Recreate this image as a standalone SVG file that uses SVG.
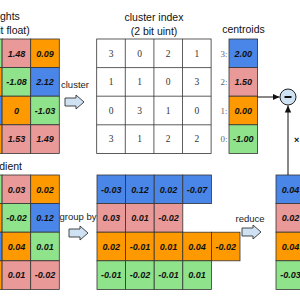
<svg xmlns="http://www.w3.org/2000/svg" width="300" height="300" viewBox="0 0 300 300">
<style>
.b{fill:#4a86e8;stroke:#333;stroke-width:0.8}
.p{fill:#ea9999;stroke:#333;stroke-width:0.8}
.o{fill:#ff9900;stroke:#333;stroke-width:0.8}
.g{fill:#8fe38a;stroke:#333;stroke-width:0.8}
.w{fill:#fff;stroke:#333;stroke-width:0.8}
.v{font-family:"Liberation Sans",Arial,sans-serif;font-size:9px;font-weight:bold;font-style:italic;fill:#111;text-anchor:middle}
.t{font-family:"Liberation Sans",Arial,sans-serif;font-size:10.5px;fill:#111;text-anchor:middle}
.l{font-family:"Liberation Sans",Arial,sans-serif;font-size:9.5px;fill:#222;text-anchor:middle}
.n{font-family:"Liberation Serif","Times New Roman",serif;font-size:9.5px;fill:#333;text-anchor:middle}
.k{font-family:"Liberation Serif","Times New Roman",serif;font-size:9px;fill:#666;text-anchor:end}
.blk{fill:#cfe2f3;stroke:#333;stroke-width:0.9}
</style>
<defs>
<marker id="ah" markerWidth="8" markerHeight="8" refX="7" refY="4" orient="auto" markerUnits="userSpaceOnUse">
<path d="M0,0.8 L7,4 L0,7.2 Z" fill="#111"/>
</marker>
<path id="blockarrow" d="M0,-4 H11 V-7 L19,0 L11,7 V4 H0 Z"/>
</defs>

<g id="weights">
<text class="t" x="2" y="20">weights</text>
<text class="t" x="2" y="34">(32 bit float)</text>
<rect class="b" x="-55.1" y="39" width="28.6" height="28.6"/><rect class="g" x="-26.5" y="39" width="28.6" height="28.6"/><rect class="p" x="2.1" y="39" width="28.6" height="28.6"/><rect class="o" x="30.7" y="39" width="28.6" height="28.6"/>
<rect class="o" x="-55.1" y="67.6" width="28.6" height="28.6"/><rect class="o" x="-26.5" y="67.6" width="28.6" height="28.6"/><rect class="g" x="2.1" y="67.6" width="28.6" height="28.6"/><rect class="b" x="30.7" y="67.6" width="28.6" height="28.6"/>
<rect class="g" x="-55.1" y="96.2" width="28.6" height="28.6"/><rect class="b" x="-26.5" y="96.2" width="28.6" height="28.6"/><rect class="o" x="2.1" y="96.2" width="28.6" height="28.6"/><rect class="g" x="30.7" y="96.2" width="28.6" height="28.6"/>
<rect class="b" x="-55.1" y="124.8" width="28.6" height="28.6"/><rect class="o" x="-26.5" y="124.8" width="28.6" height="28.6"/><rect class="p" x="2.1" y="124.8" width="28.6" height="28.6"/><rect class="p" x="30.7" y="124.8" width="28.6" height="28.6"/>
<text class="v" x="16.4" y="56.5">1.48</text><text class="v" x="45" y="56.5">0.09</text>
<text class="v" x="16.4" y="85.1">-1.08</text><text class="v" x="45" y="85.1">2.12</text>
<text class="v" x="16.4" y="113.7">0</text><text class="v" x="45" y="113.7">-1.03</text>
<text class="v" x="16.4" y="142.3">1.53</text><text class="v" x="45" y="142.3">1.49</text>
</g>

<g id="gradient">
<text class="t" x="3" y="170">gradient</text>
<rect class="b" x="-55.1" y="175" width="28.6" height="28.6"/><rect class="g" x="-26.5" y="175" width="28.6" height="28.6"/><rect class="p" x="2.1" y="175" width="28.6" height="28.6"/><rect class="o" x="30.7" y="175" width="28.6" height="28.6"/>
<rect class="o" x="-55.1" y="203.6" width="28.6" height="28.6"/><rect class="o" x="-26.5" y="203.6" width="28.6" height="28.6"/><rect class="g" x="2.1" y="203.6" width="28.6" height="28.6"/><rect class="b" x="30.7" y="203.6" width="28.6" height="28.6"/>
<rect class="g" x="-55.1" y="232.2" width="28.6" height="28.6"/><rect class="b" x="-26.5" y="232.2" width="28.6" height="28.6"/><rect class="o" x="2.1" y="232.2" width="28.6" height="28.6"/><rect class="g" x="30.7" y="232.2" width="28.6" height="28.6"/>
<rect class="b" x="-55.1" y="260.8" width="28.6" height="28.6"/><rect class="o" x="-26.5" y="260.8" width="28.6" height="28.6"/><rect class="p" x="2.1" y="260.8" width="28.6" height="28.6"/><rect class="p" x="30.7" y="260.8" width="28.6" height="28.6"/>
<text class="v" x="16.4" y="192.5">0.03</text><text class="v" x="45" y="192.5">0.02</text>
<text class="v" x="16.4" y="221.1">-0.02</text><text class="v" x="45" y="221.1">0.12</text>
<text class="v" x="16.4" y="249.7">0.04</text><text class="v" x="45" y="249.7">0.01</text>
<text class="v" x="16.4" y="278.3">0.01</text><text class="v" x="45" y="278.3">-0.02</text>
</g>

<g id="cluster-index">
<text class="t" x="154" y="20.5">cluster index</text>
<text class="t" x="154" y="35">(2 bit uint)</text>
<rect class="w" x="96.7" y="39" width="114.4" height="114.4"/>
<path d="M125.3,39 V153.4 M153.9,39 V153.4 M182.5,39 V153.4 M96.7,67.6 H211.1 M96.7,96.2 H211.1 M96.7,124.8 H211.1" stroke="#333" stroke-width="0.8" fill="none"/>
<text class="n" x="111" y="56.5">3</text><text class="n" x="139.6" y="56.5">0</text><text class="n" x="168.2" y="56.5">2</text><text class="n" x="196.8" y="56.5">1</text>
<text class="n" x="111" y="85.1">1</text><text class="n" x="139.6" y="85.1">1</text><text class="n" x="168.2" y="85.1">0</text><text class="n" x="196.8" y="85.1">3</text>
<text class="n" x="111" y="113.7">0</text><text class="n" x="139.6" y="113.7">3</text><text class="n" x="168.2" y="113.7">1</text><text class="n" x="196.8" y="113.7">0</text>
<text class="n" x="111" y="142.3">3</text><text class="n" x="139.6" y="142.3">1</text><text class="n" x="168.2" y="142.3">2</text><text class="n" x="196.8" y="142.3">2</text>
</g>

<g id="centroids">
<text class="t" x="243.5" y="33">centroids</text>
<rect class="b" x="229" y="39" width="28.6" height="28.6"/>
<rect class="p" x="229" y="67.6" width="28.6" height="28.6"/>
<rect class="o" x="229" y="96.2" width="28.6" height="28.6"/>
<rect class="g" x="229" y="124.8" width="28.6" height="28.6"/>
<text class="k" x="227.5" y="56.5">3:</text><text class="k" x="227.5" y="85.1">2:</text><text class="k" x="227.5" y="113.7">1:</text><text class="k" x="227.5" y="142.3">0:</text>
<text class="v" x="243.3" y="56.5">2.00</text><text class="v" x="243.3" y="85.1">1.50</text><text class="v" x="243.3" y="113.7">0.00</text><text class="v" x="243.3" y="142.3">-1.00</text>
</g>

<g id="grouped">
<rect class="b" x="97" y="175" width="28.6" height="28.6"/><rect class="b" x="125.6" y="175" width="28.6" height="28.6"/><rect class="b" x="154.2" y="175" width="28.6" height="28.6"/><rect class="b" x="182.8" y="175" width="28.6" height="28.6"/>
<rect class="p" x="97" y="203.6" width="28.6" height="28.6"/><rect class="p" x="125.6" y="203.6" width="28.6" height="28.6"/><rect class="p" x="154.2" y="203.6" width="28.6" height="28.6"/>
<rect class="o" x="97" y="232.2" width="28.6" height="28.6"/><rect class="o" x="125.6" y="232.2" width="28.6" height="28.6"/><rect class="o" x="154.2" y="232.2" width="28.6" height="28.6"/><rect class="o" x="182.8" y="232.2" width="28.6" height="28.6"/><rect class="o" x="211.4" y="232.2" width="28.6" height="28.6"/>
<rect class="g" x="97" y="260.8" width="28.6" height="28.6"/><rect class="g" x="125.6" y="260.8" width="28.6" height="28.6"/><rect class="g" x="154.2" y="260.8" width="28.6" height="28.6"/><rect class="g" x="182.8" y="260.8" width="28.6" height="28.6"/>
<text class="v" x="111.3" y="192.5">-0.03</text><text class="v" x="139.9" y="192.5">0.12</text><text class="v" x="168.5" y="192.5">0.02</text><text class="v" x="197.1" y="192.5">-0.07</text>
<text class="v" x="111.3" y="221.1">0.03</text><text class="v" x="139.9" y="221.1">0.01</text><text class="v" x="168.5" y="221.1">-0.02</text>
<text class="v" x="111.3" y="249.7">0.02</text><text class="v" x="139.9" y="249.7">-0.01</text><text class="v" x="168.5" y="249.7">0.01</text><text class="v" x="197.1" y="249.7">0.04</text><text class="v" x="225.7" y="249.7">-0.02</text>
<text class="v" x="111.3" y="278.3">-0.01</text><text class="v" x="139.9" y="278.3">-0.02</text><text class="v" x="168.5" y="278.3">-0.01</text><text class="v" x="197.1" y="278.3">0.01</text>
</g>

<g id="reduced">
<rect class="b" x="276" y="175" width="29" height="28.6"/>
<rect class="p" x="276" y="203.6" width="29" height="28.6"/>
<rect class="o" x="276" y="232.2" width="29" height="28.6"/>
<rect class="g" x="276" y="260.8" width="29" height="28.6"/>
<text class="v" x="290.5" y="192.5">0.04</text><text class="v" x="290.5" y="221.1">0.02</text><text class="v" x="290.5" y="249.7">0.04</text><text class="v" x="290.5" y="278.3">-0.03</text>
</g>

<g id="minus">
<circle cx="288" cy="97" r="8" fill="#cfe2f3" stroke="#222" stroke-width="1"/>
<path d="M284.5,97 H291.5" stroke="#111" stroke-width="2"/>
</g>

<g id="connectors">
<text class="l" x="75" y="88">cluster</text>
<use href="#blockarrow" class="blk" x="65" y="102"/>
<text class="l" x="78" y="220">group by</text>
<use href="#blockarrow" class="blk" x="69" y="233"/>
<text class="l" x="250" y="222">reduce</text>
<use href="#blockarrow" class="blk" x="242" y="232"/>
<path d="M257.6,97 H279.5" stroke="#111" stroke-width="1" fill="none" marker-end="url(#ah)"/>
<path d="M288,175 V105.5" stroke="#111" stroke-width="1" fill="none" marker-end="url(#ah)"/>
<text x="294" y="143" font-family="Liberation Sans,Arial,sans-serif" font-size="9" font-weight="bold" fill="#111">×</text>
</g>
</svg>
